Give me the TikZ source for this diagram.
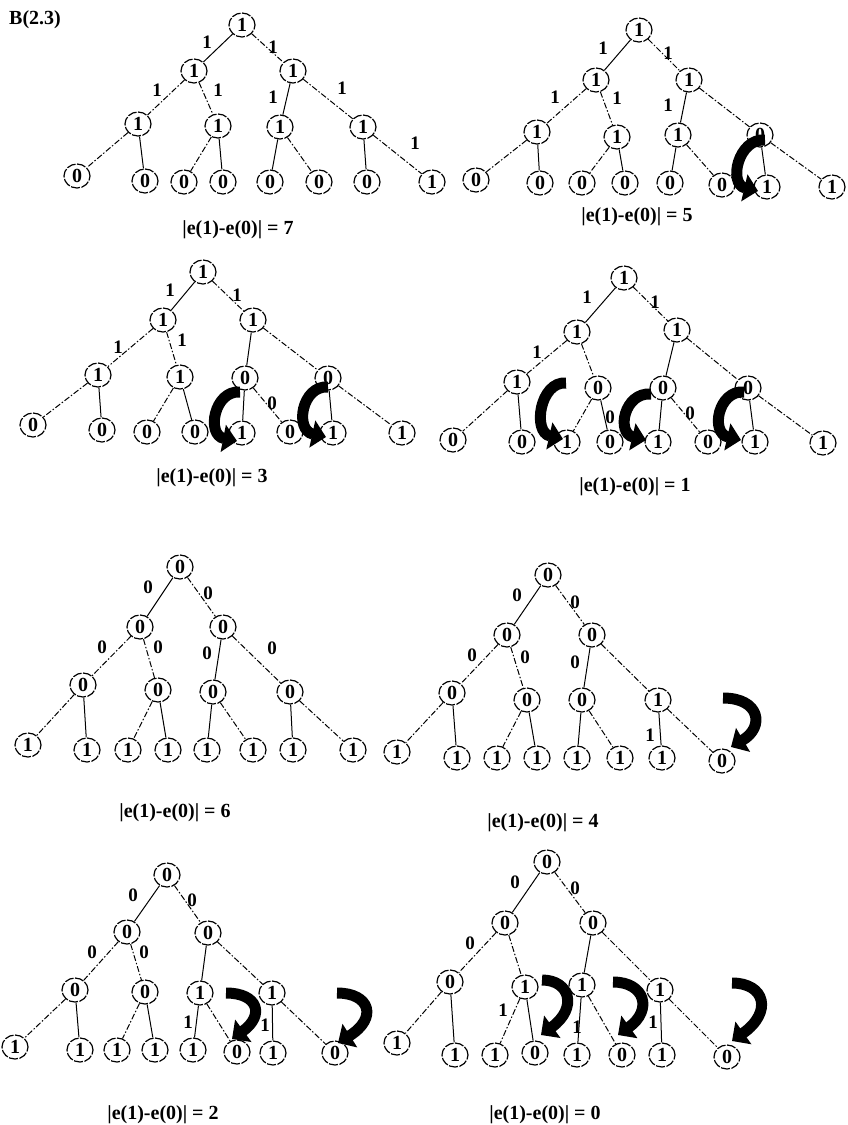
\documentclass[tikz,border=0pt]{standalone}
\usepackage{fontspec}
\setmainfont{Liberation Serif}
\usetikzlibrary{arrows.meta,shapes.geometric}

\begin{document}
\begin{tikzpicture}[x=1pt,y=-1pt,
  bit/.style={ellipse,draw,line width=1.2pt,dash pattern=on 9pt off 1.5pt,inner sep=0pt,
    minimum width=26pt,minimum height=24pt,font=\bfseries\fontsize{20}{20}\selectfont},
  elbl/.style={inner sep=0pt,font=\bfseries\fontsize{19}{19}\selectfont},
  sumlbl/.style={inner sep=0pt,font=\bfseries\fontsize{20}{20}\selectfont},
  link/.style={line width=1pt},
  dlink/.style={line width=1pt,dash pattern=on 6pt off 2pt on 1.5pt off 2pt},
  flip/.style={line width=11pt,-{Triangle[length=14pt,width=27pt]}}]
\useasboundingbox (0,0) rectangle (847,1125);
%\draw[step=50,gray,very thin] (0,0) grid (847,1125); %background grid

\node[sumlbl] (title) at (35,20) {B(2.3)};

% ---- e = 7
\node[bit] (p1r)   at (242,25)  {1};
\node[bit] (p1a)   at (194,71)  {1};
\node[bit] (p1b)   at (293,71)  {1};
\node[bit] (p1aa)  at (138,124) {1};
\node[bit] (p1ab)  at (218,126) {1};
\node[bit] (p1ba)  at (280,127) {1};
\node[bit] (p1bb)  at (363,127) {1};
\node[bit] (p1aaa) at (77,176)  {0};
\node[bit] (p1aab) at (145,181) {0};
\node[bit] (p1aba) at (184,182) {0};
\node[bit] (p1abb) at (223,182) {0};
\node[bit] (p1baa) at (270,182) {0};
\node[bit] (p1bab) at (319,182) {0};
\node[bit] (p1bba) at (367,182) {0};
\node[bit] (p1bbb) at (432,182) {1};

\draw[link]  (p1r) -- (p1a)  (p1b) -- (p1ba)  (p1aa) -- (p1aab)  (p1ab) -- (p1abb)  (p1ba) -- (p1baa)  (p1bb) -- (p1bba);
\draw[dlink] (p1r) -- (p1b)  (p1a) -- (p1aa)  (p1a) -- (p1ab)  (p1b) -- (p1bb)  (p1aa) -- (p1aaa)  (p1ab) -- (p1aba)  (p1ba) -- (p1bab)  (p1bb) -- (p1bbb);

\node[elbl] (p1l1) at (207,42)  {1};
\node[elbl] (p1l2) at (273,47)  {1};
\node[elbl] (p1l3) at (157,90)  {1};
\node[elbl] (p1l4) at (218,90)  {1};
\node[elbl] (p1l5) at (273,97)  {1};
\node[elbl] (p1l6) at (342,88)  {1};
\node[elbl] (p1l7) at (415,143) {1};

\node[sumlbl] (p1sum) at (238,230) {|e(1)-e(0)| = 7};

% ---- e = 5
\node[bit] (p2r)   at (639,30)  {1};
\node[bit] (p2a)   at (596,80)  {1};
\node[bit] (p2b)   at (689,80)  {1};
\node[bit] (p2aa)  at (537,132) {1};
\node[bit] (p2ab)  at (617,137) {1};
\node[bit] (p2ba)  at (678,135) {1};
\node[bit] (p2bb)  at (760,135) {0};
\node[bit] (p2aaa) at (476,180) {0};
\node[bit] (p2aab) at (540,183) {0};
\node[bit] (p2aba) at (582,183) {0};
\node[bit] (p2abb) at (625,183) {0};
\node[bit] (p2baa) at (670,183) {0};
\node[bit] (p2bab) at (722,185) {0};
\node[bit] (p2bba) at (767,187) {1};
\node[bit] (p2bbb) at (832,187) {1};

\draw[link]  (p2r) -- (p2a)  (p2b) -- (p2ba)  (p2aa) -- (p2aab)  (p2ab) -- (p2abb)  (p2ba) -- (p2baa)  (p2bb) -- (p2bba);
\draw[dlink] (p2r) -- (p2b)  (p2a) -- (p2aa)  (p2a) -- (p2ab)  (p2b) -- (p2bb)  (p2aa) -- (p2aaa)  (p2ab) -- (p2aba)  (p2ba) -- (p2bab)  (p2bb) -- (p2bbb);

\node[elbl] (p2l1) at (603,48)  {1};
\node[elbl] (p2l2) at (668,53)  {1};
\node[elbl] (p2l3) at (555,97)  {1};
\node[elbl] (p2l4) at (617,98)  {1};
\node[elbl] (p2l5) at (668,105) {1};

\coordinate (p2s1) at (765,140);
\coordinate (p2e1) at (758,191);
\draw[flip] (p2s1) .. controls (738,138) and (728,184) .. (p2e1);

\node[sumlbl] (p2sum) at (637,217) {|e(1)-e(0)| = 5};

% ---- e = 3
\node[bit] (p3r)   at (203,272) {1};
\node[bit] (p3a)   at (163,320) {1};
\node[bit] (p3b)   at (253,320) {1};
\node[bit] (p3aa)  at (98,375)  {1};
\node[bit] (p3ab)  at (180,377) {1};
\node[bit] (p3ba)  at (245,378) {0};
\node[bit] (p3bb)  at (328,378) {0};
\node[bit] (p3aaa) at (33,425)  {0};
\node[bit] (p3aab) at (102,430) {0};
\node[bit] (p3aba) at (147,432) {0};
\node[bit] (p3abb) at (195,432) {0};
\node[bit] (p3baa) at (242,433) {1};
\node[bit] (p3bab) at (290,432) {0};
\node[bit] (p3bba) at (333,433) {1};
\node[bit] (p3bbb) at (402,433) {1};

\draw[link]  (p3r) -- (p3a)  (p3b) -- (p3ba)  (p3aa) -- (p3aab)  (p3ab) -- (p3abb)  (p3ba) -- (p3baa)  (p3bb) -- (p3bba);
\draw[dlink] (p3r) -- (p3b)  (p3a) -- (p3aa)  (p3a) -- (p3ab)  (p3b) -- (p3bb)  (p3aa) -- (p3aaa)  (p3ab) -- (p3aba)  (p3ba) -- (p3bab)  (p3bb) -- (p3bbb);

\node[elbl] (p3l1) at (170,290) {1};
\node[elbl] (p3l2) at (237,295) {1};
\node[elbl] (p3l3) at (118,347) {1};
\node[elbl] (p3l4) at (182,340) {1};
\node[elbl] (p3l5) at (272,403) {0};

\coordinate (p3s1) at (240,392);
\coordinate (p3e1) at (237,441);
\draw[flip] (p3s1) .. controls (214,390) and (206,435) .. (p3e1);
\coordinate (p3s2) at (328,387);
\coordinate (p3e2) at (326,437);
\draw[flip] (p3s2) .. controls (302,385) and (294,430) .. (p3e2);

\node[sumlbl] (p3sum) at (212,478) {|e(1)-e(0)| = 3};

% ---- e = 1
\node[bit] (p4r)   at (624,278) {1};
\node[bit] (p4a)   at (577,332) {1};
\node[bit] (p4b)   at (677,330) {1};
\node[bit] (p4aa)  at (517,382) {1};
\node[bit] (p4ab)  at (598,388) {0};
\node[bit] (p4ba)  at (663,388) {0};
\node[bit] (p4bb)  at (748,388) {0};
\node[bit] (p4aaa) at (453,440) {0};
\node[bit] (p4aab) at (522,442) {0};
\node[bit] (p4aba) at (567,442) {1};
\node[bit] (p4abb) at (610,442) {0};
\node[bit] (p4baa) at (658,442) {1};
\node[bit] (p4bab) at (708,442) {0};
\node[bit] (p4bba) at (755,442) {1};
\node[bit] (p4bbb) at (823,443) {1};

\draw[link]  (p4r) -- (p4a)  (p4b) -- (p4ba)  (p4aa) -- (p4aab)  (p4ab) -- (p4abb)  (p4ba) -- (p4baa)  (p4bb) -- (p4bba);
\draw[dlink] (p4r) -- (p4b)  (p4a) -- (p4aa)  (p4a) -- (p4ab)  (p4b) -- (p4bb)  (p4aa) -- (p4aaa)  (p4ab) -- (p4aba)  (p4ba) -- (p4bab)  (p4bb) -- (p4bbb);

\node[elbl] (p4l1) at (587,297) {1};
\node[elbl] (p4l2) at (655,302) {1};
\node[elbl] (p4l3) at (537,352) {1};
\node[elbl] (p4l4) at (610,417) {0};
\node[elbl] (p4l5) at (690,413) {0};

\coordinate (p4s1) at (566,383);
\coordinate (p4e1) at (563,439);
\draw[flip] (p4s1) .. controls (540,381) and (532,432) .. (p4e1);
\coordinate (p4s2) at (651,394);
\coordinate (p4e2) at (646,440);
\draw[flip] (p4s2) .. controls (624,392) and (616,433) .. (p4e2);
\coordinate (p4s3) at (744,392);
\coordinate (p4e3) at (741,440);
\draw[flip] (p4s3) .. controls (718,390) and (710,433) .. (p4e3);

\node[sumlbl] (p4sum) at (635,487) {|e(1)-e(0)| = 1};

% ---- e = 6
\node[bit] (p5r)   at (180,567) {0};
\node[bit] (p5a)   at (140,627) {0};
\node[bit] (p5b)   at (223,627) {0};
\node[bit] (p5aa)  at (83,685)  {0};
\node[bit] (p5ab)  at (158,690) {0};
\node[bit] (p5ba)  at (213,692) {0};
\node[bit] (p5bb)  at (290,692) {0};
\node[bit] (p5aaa) at (28,745)  {1};
\node[bit] (p5aab) at (87,750)  {1};
\node[bit] (p5aba) at (128,750) {1};
\node[bit] (p5abb) at (168,750) {1};
\node[bit] (p5baa) at (207,750) {1};
\node[bit] (p5bab) at (253,750) {1};
\node[bit] (p5bba) at (293,750) {1};
\node[bit] (p5bbb) at (353,750) {1};

\draw[link]  (p5r) -- (p5a)  (p5b) -- (p5ba)  (p5aa) -- (p5aab)  (p5ab) -- (p5abb)  (p5ba) -- (p5baa)  (p5bb) -- (p5bba);
\draw[dlink] (p5r) -- (p5b)  (p5a) -- (p5aa)  (p5a) -- (p5ab)  (p5b) -- (p5bb)  (p5aa) -- (p5aaa)  (p5ab) -- (p5aba)  (p5ba) -- (p5bab)  (p5bb) -- (p5bbb);

\node[elbl] (p5l1) at (148,587) {0};
\node[elbl] (p5l2) at (208,593) {0};
\node[elbl] (p5l3) at (102,647) {0};
\node[elbl] (p5l4) at (158,647) {0};
\node[elbl] (p5l5) at (207,653) {0};
\node[elbl] (p5l6) at (272,648) {0};

\node[sumlbl] (p5sum) at (175,813) {|e(1)-e(0)| = 6};

% ---- e = 4
\node[bit] (p6r)   at (548,575) {0};
\node[bit] (p6a)   at (507,635) {0};
\node[bit] (p6b)   at (592,635) {0};
\node[bit] (p6aa)  at (452,693) {0};
\node[bit] (p6ab)  at (527,700) {0};
\node[bit] (p6ba)  at (582,700) {0};
\node[bit] (p6bb)  at (658,700) {1};
\node[bit] (p6aaa) at (397,752) {1};
\node[bit] (p6aab) at (457,758) {1};
\node[bit] (p6aba) at (497,758) {1};
\node[bit] (p6abb) at (537,758) {1};
\node[bit] (p6baa) at (577,758) {1};
\node[bit] (p6bab) at (620,758) {1};
\node[bit] (p6bba) at (662,758) {1};
\node[bit] (p6bbb) at (722,761) {0};

\draw[link]  (p6r) -- (p6a)  (p6b) -- (p6ba)  (p6aa) -- (p6aab)  (p6ab) -- (p6abb)  (p6ba) -- (p6baa)  (p6bb) -- (p6bba);
\draw[dlink] (p6r) -- (p6b)  (p6a) -- (p6aa)  (p6a) -- (p6ab)  (p6b) -- (p6bb)  (p6aa) -- (p6aaa)  (p6ab) -- (p6aba)  (p6ba) -- (p6bab)  (p6bb) -- (p6bbb);

\node[elbl] (p6l1) at (517,595) {0};
\node[elbl] (p6l2) at (575,602) {0};
\node[elbl] (p6l3) at (472,655) {0};
\node[elbl] (p6l4) at (525,657) {0};
\node[elbl] (p6l5) at (575,662) {0};
\node[elbl] (p6l6) at (650,735) {1};

\coordinate (p6s1) at (723,698);
\coordinate (p6e1) at (731,747);
\draw[flip] (p6s1) .. controls (760,698) and (765,727) .. (p6e1);

\node[sumlbl] (p6sum) at (543,823) {|e(1)-e(0)| = 4};

% ---- e = 2
\node[bit] (p7r)   at (167,875)  {0};
\node[bit] (p7a)   at (127,932)  {0};
\node[bit] (p7b)   at (208,933)  {0};
\node[bit] (p7aa)  at (75,990)   {0};
\node[bit] (p7ab)  at (145,992)  {0};
\node[bit] (p7ba)  at (200,993)  {1};
\node[bit] (p7bb)  at (272,993)  {1};
\node[bit] (p7aaa) at (15,1047)  {1};
\node[bit] (p7aab) at (80,1050)  {1};
\node[bit] (p7aba) at (117,1050) {1};
\node[bit] (p7abb) at (155,1050) {1};
\node[bit] (p7baa) at (193,1050) {1};
\node[bit] (p7bab) at (237,1052) {0};
\node[bit] (p7bba) at (273,1053) {1};
\node[bit] (p7bbb) at (335,1053) {0};

\draw[link]  (p7r) -- (p7a)  (p7b) -- (p7ba)  (p7aa) -- (p7aab)  (p7ab) -- (p7abb)  (p7ba) -- (p7baa)  (p7bb) -- (p7bba);
\draw[dlink] (p7r) -- (p7b)  (p7a) -- (p7aa)  (p7a) -- (p7ab)  (p7b) -- (p7bb)  (p7aa) -- (p7aaa)  (p7ab) -- (p7aba)  (p7ba) -- (p7bab)  (p7bb) -- (p7bbb);

\node[elbl] (p7l1) at (133,895)  {0};
\node[elbl] (p7l2) at (192,900)  {0};
\node[elbl] (p7l3) at (92,952)   {0};
\node[elbl] (p7l4) at (144,952)  {0};
\node[elbl] (p7l5) at (188,1022) {1};
\node[elbl] (p7l6) at (265,1025) {1};

\coordinate (p7s1) at (226,993);
\coordinate (p7e1) at (232,1039);
\draw[flip] (p7s1) .. controls (258,993) and (265,1015) .. (p7e1);
\coordinate (p7s2) at (337,993);
\coordinate (p7e2) at (338,1043);
\draw[flip] (p7s2) .. controls (370,993) and (378,1018) .. (p7e2);

\node[sumlbl] (p7sum) at (163,1115) {|e(1)-e(0)| = 2};

% ---- e = 0
\node[bit] (p8r)   at (547,862)  {0};
\node[bit] (p8a)   at (505,923)  {0};
\node[bit] (p8b)   at (593,923)  {0};
\node[bit] (p8aa)  at (450,982)  {0};
\node[bit] (p8ab)  at (525,987)  {1};
\node[bit] (p8ba)  at (582,985)  {1};
\node[bit] (p8bb)  at (660,990)  {1};
\node[bit] (p8aaa) at (397,1043) {1};
\node[bit] (p8aab) at (455,1055) {1};
\node[bit] (p8aba) at (495,1055) {1};
\node[bit] (p8abb) at (535,1053) {0};
\node[bit] (p8baa) at (577,1055) {1};
\node[bit] (p8bab) at (622,1055) {0};
\node[bit] (p8bba) at (662,1055) {1};
\node[bit] (p8bbb) at (727,1057) {0};

\draw[link]  (p8r) -- (p8a)  (p8b) -- (p8ba)  (p8aa) -- (p8aab)  (p8ab) -- (p8abb)  (p8ba) -- (p8baa)  (p8bb) -- (p8bba);
\draw[dlink] (p8r) -- (p8b)  (p8a) -- (p8aa)  (p8a) -- (p8ab)  (p8b) -- (p8bb)  (p8aa) -- (p8aaa)  (p8ab) -- (p8aba)  (p8ba) -- (p8bab)  (p8bb) -- (p8bbb);

\node[elbl] (p8l1) at (515,882)  {0};
\node[elbl] (p8l2) at (575,888)  {0};
\node[elbl] (p8l3) at (470,943)  {0};
\node[elbl] (p8l4) at (503,1010) {1};
\node[elbl] (p8l5) at (577,1027) {1};
\node[elbl] (p8l6) at (653,1022) {1};

\coordinate (p8s1) at (542,980);
\coordinate (p8e1) at (541,1035);
\draw[flip] (p8s1) .. controls (570,980) and (578,1008) .. (p8e1);
\coordinate (p8s2) at (613,982);
\coordinate (p8e2) at (618,1035);
\draw[flip] (p8s2) .. controls (645,982) and (653,1010) .. (p8e2);
\coordinate (p8s3) at (732,983);
\coordinate (p8e3) at (732,1041);
\draw[flip] (p8s3) .. controls (765,983) and (773,1012) .. (p8e3);

\node[sumlbl] (p8sum) at (545,1115) {|e(1)-e(0)| = 0};

\end{tikzpicture}
\end{document}
